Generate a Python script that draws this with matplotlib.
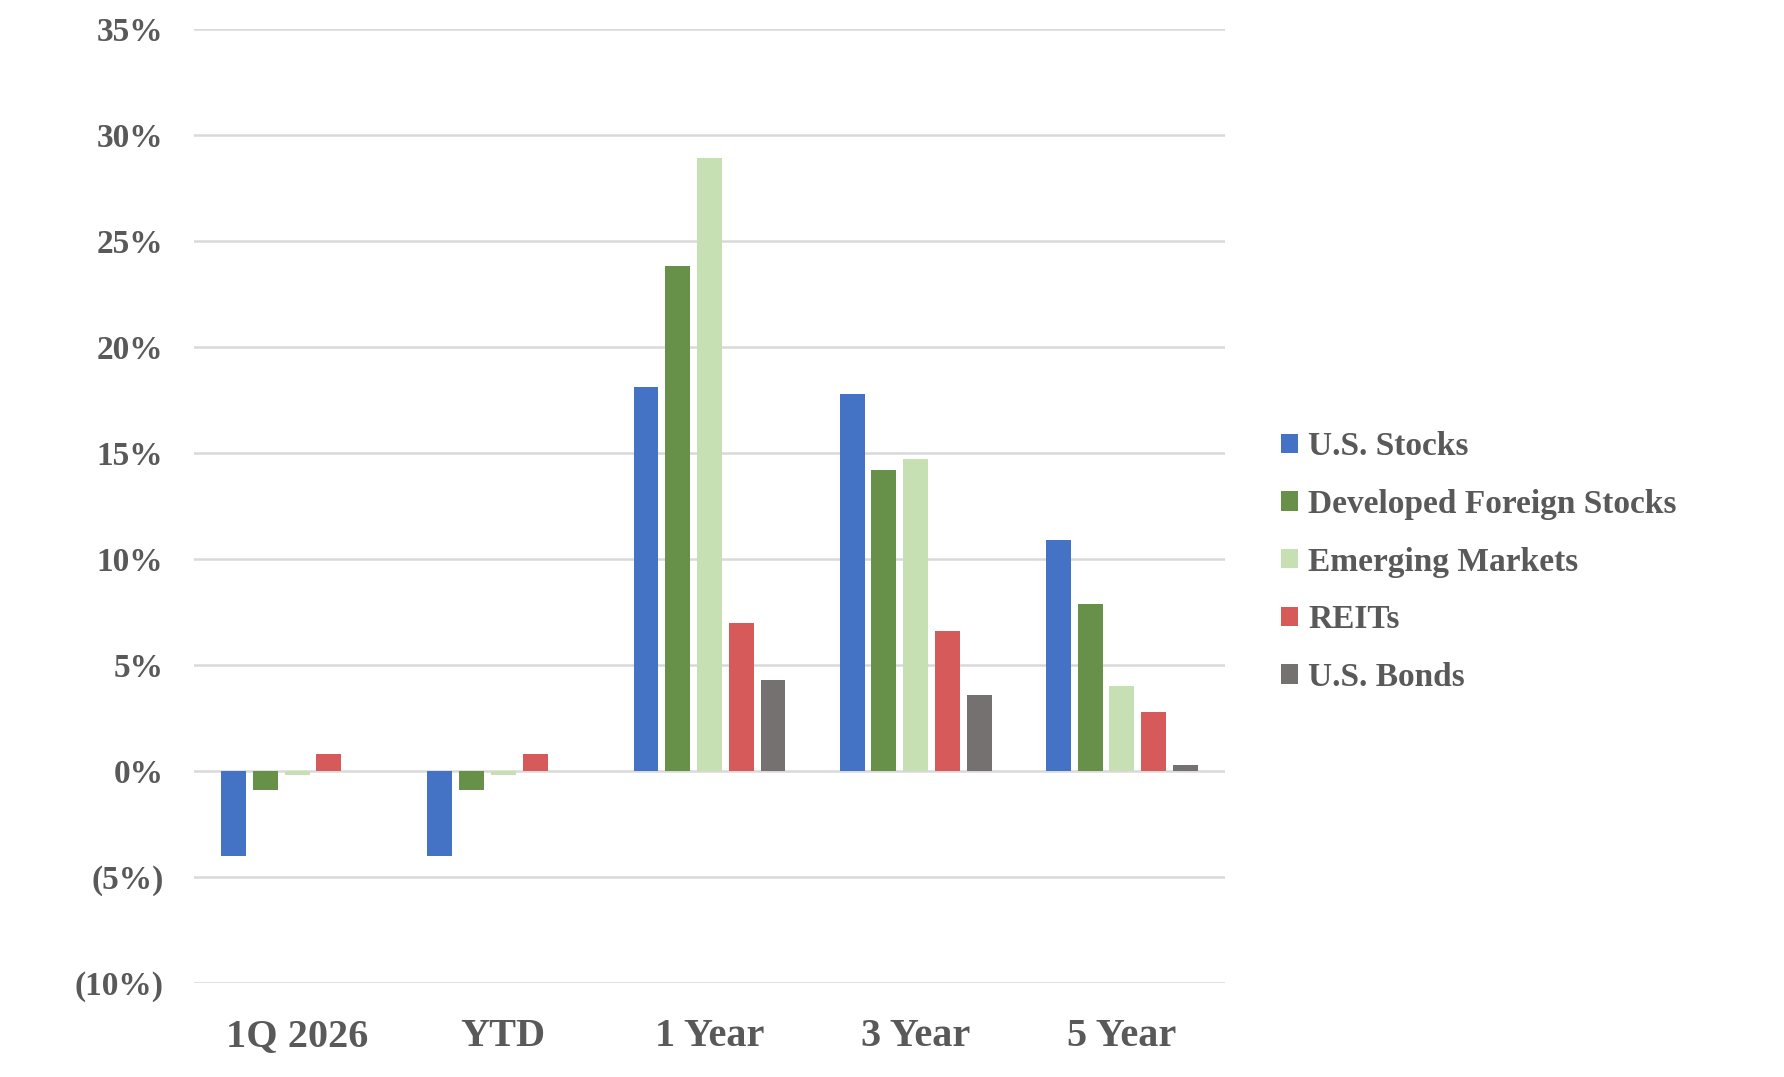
import numpy as np
import matplotlib
matplotlib.use("Agg")
import matplotlib.pyplot as plt
from matplotlib.patches import Patch

# Asset class returns (%) by period
periods = ["1Q 2026", "YTD", "1 Year", "3 Year", "5 Year"]
series_names = ["U.S. Stocks", "Developed Foreign Stocks", "Emerging Markets", "REITs", "U.S. Bonds"]
us_stocks = [-4.0, -4.0, 18.1, 17.8, 10.9]
dev_foreign = [-0.9, -0.9, 23.8, 14.2, 7.9]
emerging = [-0.2, -0.2, 28.9, 14.7, 4.0]
reits = [0.8, 0.8, 7.0, 6.6, 2.8]
us_bonds = [0.0, 0.0, 4.3, 3.6, 0.3]
y_ticks = [-10, -5, 0, 5, 10, 15, 20, 25, 30, 35]

colors = ["#4472C4", "#679048", "#C6E0B4", "#D65A5A", "#767171"]
text_color = "#595959"
plt.rcParams["font.family"] = ["Liberation Serif", "DejaVu Serif"]
plt.rcParams["font.weight"] = "bold"

fig = plt.figure(figsize=(17.84, 10.77), dpi=100)
ax = fig.add_axes([194 / 1784, 1 - 983 / 1077, (1225 - 194) / 1784, (983 - 29) / 1077])

x = np.arange(len(periods))
width = 0.121
pitch = 0.154
all_series = [us_stocks, dev_foreign, emerging, reits, us_bonds]
for i, (vals, col) in enumerate(zip(all_series, colors)):
    ax.bar(x + (i - 2) * pitch, vals, width, color=col, zorder=3)

ax.set_xlim(-0.5, len(periods) - 0.5)
ax.set_ylim(-10, 35)
ax.set_yticks(y_ticks)
ax.set_yticklabels(["({}%)".format(-t) if t < 0 else "{}%".format(t) for t in y_ticks])
ax.set_xticks(x)
ax.set_xticklabels(periods)

ax.grid(axis="y", color="#D9D9D9", linewidth=1.8, zorder=0)
ax.set_axisbelow(True)
for side in ["top", "right", "left", "bottom"]:
    ax.spines[side].set_visible(False)
ax.tick_params(axis="y", length=0, pad=22, labelsize=24, labelcolor=text_color)
ax.tick_params(axis="x", length=0, pad=25, labelsize=29, labelcolor=text_color)

handles = [Patch(facecolor=c, edgecolor="none") for c in colors]
fig.legend(handles, series_names, loc="center left",
           bbox_to_anchor=(1281 / 1784, 1 - 562 / 1077), bbox_transform=fig.transFigure,
           frameon=False, fontsize=24, handlelength=0.52, handleheight=0.52,
           handletextpad=0.3, labelspacing=0.8, borderpad=0, borderaxespad=0,
           labelcolor=text_color)

fig.savefig("out.png", dpi=100, facecolor="white")
